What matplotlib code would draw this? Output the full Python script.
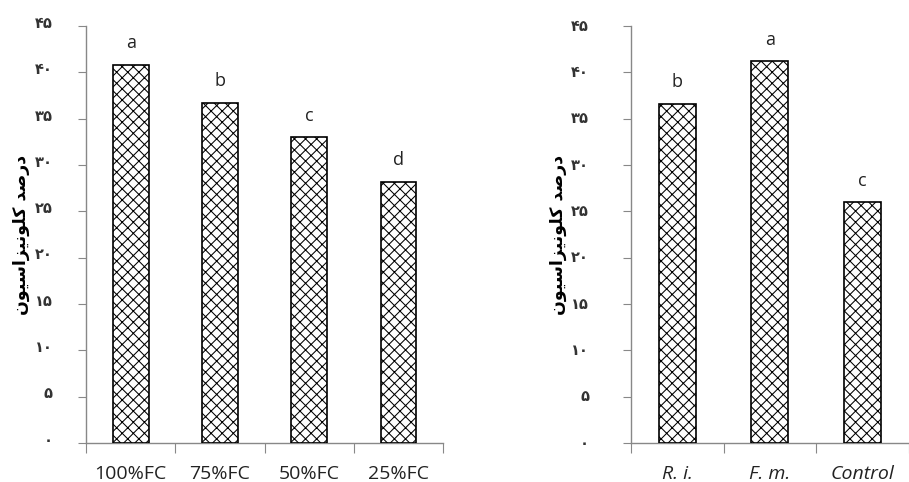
import matplotlib
matplotlib.use("Agg")
import matplotlib.pyplot as plt
import matplotlib.transforms as mtransforms
import numpy as np

# data
water_levels = ["100%FC", "75%FC", "50%FC", "25%FC"]
water_values = [40.8, 36.7, 33.0, 28.2]
water_letters = ["a", "b", "c", "d"]

fungi = ["R. i.", "F. m.", "Control"]
fungi_values = [36.6, 41.2, 26.0]
fungi_letters = ["b", "a", "c"]

yticks = [0, 5, 10, 15, 20, 25, 30, 35, 40, 45]
ytick_labels = ["۰", "۵", "۱۰", "۱۵", "۲۰", "۲۵", "۳۰", "۳۵", "۴۰", "۴۵"]

# "درصد کلونیزاسیون" in presentation forms, visual (left-to-right) order
ylabel_forms = ["\uFEA9", "\uFEAD", "\uFEBB", "\uFEAA", " ",
                "\uFB90", "\uFEE0", "\uFEEE", "\uFEE7", "\uFBFF", "\uFEB0",
                "\uFE8D", "\uFEB3", "\uFBFF", "\uFEEE", "\uFEE5"]
ylabel_text = "".join(ylabel_forms[::-1])

plt.rcParams['hatch.linewidth'] = 0.75
plt.rcParams['font.family'] = ['Open Sans', 'DejaVu Sans']

fig = plt.figure(figsize=(9.09, 4.82), dpi=100)
ax1 = fig.add_axes([0.0946, 0.081, 0.393, 0.865])
ax2 = fig.add_axes([0.694, 0.081, 0.306, 0.865])


def draw_panel(ax, cats, vals, letters, italic, xmax, ypad, yshift):
    x = np.arange(len(cats))
    bars = ax.bar(x, vals, width=0.4, color='white', edgecolor='black',
                  linewidth=1.2, hatch='xxx', zorder=3)
    for b, lt in zip(bars, letters):
        ax.annotate(lt, (b.get_x() + b.get_width() / 2, b.get_height()),
                    xytext=(0, 9), textcoords='offset points',
                    ha='center', va='bottom', fontsize=13, color='#222222')
    ax.set_xlim(-0.5, xmax)
    ax.set_ylim(0, 45)
    ax.set_yticks(yticks)
    ax.set_yticklabels(ytick_labels, family='DejaVu Sans', fontsize=10.5,
                       fontweight='bold', color='#333333')
    ax.tick_params(axis='y', length=6, pad=ypad, color='#888888')
    shift = mtransforms.ScaledTranslation(0, yshift / 72, fig.dpi_scale_trans)
    for lab in ax.get_yticklabels():
        lab.set_transform(lab.get_transform() + shift)
    # category boundaries carry the tick marks, centres carry the labels
    ax.set_xticks(np.arange(len(cats) + 1) - 0.5)
    ax.set_xticklabels([])
    ax.set_xticks(x, minor=True)
    ax.set_xticklabels(cats, minor=True, fontsize=14, color='#222222',
                       style='italic' if italic else 'normal')
    ax.tick_params(axis='x', which='major', length=7, color='#888888')
    ax.tick_params(axis='x', which='minor', length=0, pad=16)
    for s in ['top', 'right']:
        ax.spines[s].set_visible(False)
    for s in ['left', 'bottom']:
        ax.spines[s].set_color('#888888')
        ax.spines[s].set_linewidth(1.0)
    ax.set_ylabel(ylabel_text, family='DejaVu Sans', fontsize=12.5,
                  fontweight='bold', labelpad=3)


draw_panel(ax1, water_levels, water_values, water_letters, False, 3.5, 18, 3)
draw_panel(ax2, fungi, fungi_values, fungi_letters, True, 2.48, 24, 1)

fig.savefig("out.png", dpi=100)
